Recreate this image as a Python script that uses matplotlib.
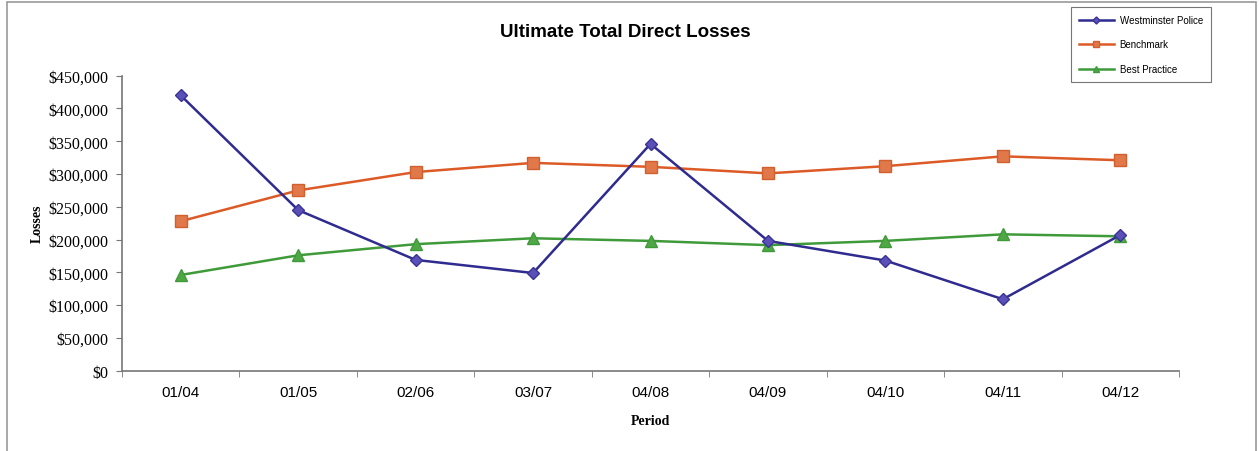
import matplotlib.pyplot as plt
from matplotlib.patches import Rectangle
from matplotlib.ticker import FuncFormatter

periods = ['01/04', '01/05', '02/06', '03/07', '04/08', '04/09', '04/10', '04/11', '04/12']
westminster = [420000, 245000, 169000, 149000, 346000, 198000, 168000, 109000, 207000]
benchmark = [228000, 275000, 303000, 317000, 311000, 301000, 312000, 327000, 321000]
best_practice = [146000, 176000, 193000, 202000, 198000, 191500, 198000, 208000, 205000]

fig = plt.figure(figsize=(12.59, 4.52), dpi=100)
ax = fig.add_axes([0.0969, 0.1777, 0.8396, 0.6526])

x = range(len(periods))
ax.plot(x, westminster, color='#2f2b8f', lw=1.8, marker='D', ms=6.5,
        mfc='#5b4fb8', mec='#3a3496', label='Westminster Police', zorder=3)
ax.plot(x, benchmark, color='#dc5a26', lw=1.8, marker='s', ms=8.5,
        mfc='#e0784a', mec='#d2602e', label='Benchmark', zorder=2)
ax.plot(x, best_practice, color='#3f9a3a', lw=1.8, marker='^', ms=8.5,
        mfc='#4fa844', mec='#3f9a3a', label='Best Practice', zorder=2)

ax.set_xlim(-0.5, len(periods) - 0.5)
ax.set_ylim(0, 450000)
ax.set_yticks(range(0, 450001, 50000))
ax.yaxis.set_major_formatter(FuncFormatter(lambda v, p: '${:,.0f}'.format(v)))
ax.set_xticks(list(x))
ax.set_xticklabels(periods, fontsize=11, family='Liberation Sans')
ax.set_xticks([i + 0.5 for i in range(-1, len(periods))], minor=True)
ax.tick_params(axis='x', which='major', length=0, pad=10)
ax.tick_params(axis='x', which='minor', length=4, color='#777777', direction='out')
ax.tick_params(axis='y', length=4, color='#777777', pad=6)
for lab in ax.get_yticklabels():
    lab.set_family('Liberation Serif')
    lab.set_fontsize(11.5)

for s in ['top', 'right']:
    ax.spines[s].set_visible(False)
for s in ['left', 'bottom']:
    ax.spines[s].set_color('#777777')
    ax.spines[s].set_linewidth(1.2)

ax.set_ylabel('Losses', family='Liberation Serif', fontweight='bold', fontsize=10, labelpad=3)
ax.set_xlabel('Period', family='Liberation Serif', fontweight='bold', fontsize=10, labelpad=11)

fig.text(0.497, 0.929, 'Ultimate Total Direct Losses', ha='center', va='center',
         family='Liberation Sans', fontweight='bold', fontsize=13.5)

leg = fig.legend(loc='upper left', bbox_to_anchor=(0.8507, 0.982), borderaxespad=0,
                 prop={'family': 'Liberation Sans', 'size': 7}, frameon=True,
                 fancybox=False, edgecolor='#555555', handlelength=3.6,
                 labelspacing=1.5, borderpad=0.8, markerscale=0.55, handletextpad=0.6)
leg.get_frame().set_linewidth(0.8)

fig.patches.append(Rectangle((0.0056, -0.05), 0.9920, 1.0440, transform=fig.transFigure,
                             fill=False, edgecolor='#999999', lw=1.2))

fig.savefig('out.png', dpi=100)
